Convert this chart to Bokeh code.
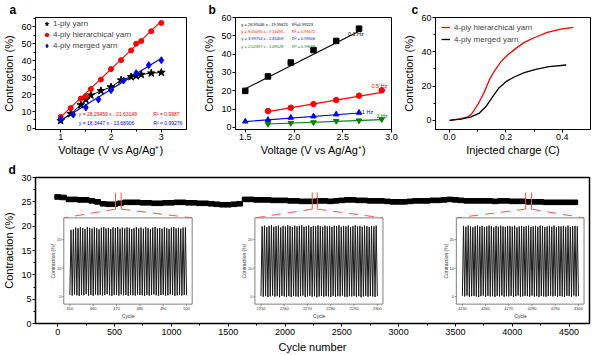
import math
from bokeh.plotting import figure
from bokeh.layouts import column, row
from bokeh.models import Range1d, Legend, LegendItem, FixedTicker, NumeralTickFormatter
from bokeh.core.properties import value
from bokeh.embed import file_html
from bokeh.resources import INLINE

FONT = "Liberation Sans"
RED = "#ff0000"
BLUE = "#0000ff"
GREEN = "#008000"
PINK = "#ff5050"

# ---------------- panel a ----------------
a_volt_1ply = [1.0, 1.2, 1.4, 1.5, 1.6, 1.8, 2.0, 2.2, 2.4, 2.5, 2.6, 2.8, 3.0]
a_contr_1ply = [4.6, 8.7, 13.9, 17.0, 19.6, 22.2, 24.4, 28.5, 30.4, 31.0, 31.8, 32.6, 33.0]
a_volt_hier = [1.0, 1.2, 1.4, 1.5, 1.6, 1.8, 2.0, 2.2, 2.4, 2.5, 2.6, 2.8, 3.0]
a_contr_hier = [6.8, 12.0, 17.6, 19.1, 23.2, 28.8, 35.0, 40.3, 46.0, 50.0, 51.5, 57.3, 62.2]
a_volt_merged = [1.0, 1.25, 1.5, 1.75, 2.0, 2.25, 2.5, 2.75, 3.0]
a_contr_merged = [5.5, 8.2, 12.4, 17.1, 22.6, 28.3, 32.6, 37.3, 40.2]
a_fit_hier = (28.29459, -21.63149)
a_fit_merged = (18.3447, -13.68906)
a_fit_text = ["y = 28.29459 x - 21.63149", "y = 18.3447 x - 13.68906"]
a_r2_text = ["R\u00b2 = 0.9987", "R\u00b2 = 0.99276"]
a_xticks = [1, 2, 3]
a_yticks = [0, 10, 20, 30, 40, 50, 60]

# ---------------- panel b ----------------
b_volt = [1.5, 1.733, 1.967, 2.2, 2.433, 2.667]
b_volt_hi = [1.733, 1.967, 2.2, 2.433, 2.667, 2.9]
b_01hz = [19.9, 27.8, 35.4, 42.2, 47.2, 53.9]
b_05hz = [8.9, 10.7, 12.7, 14.9, 17.3, 20.2]
b_1hz = [3.2, 4.1, 5.3, 6.0, 7.1, 8.0]
b_2hz = [1.8, 2.3, 2.7, 3.4, 3.7, 4.4]
b_fits = [(26.95046, -19.39625), (9.05095, -7.14095), (3.99754, -2.85409), (2.02397, -1.69528)]
b_fit_text = ["y = 26.95046 x - 19.39625", "y = 9.05095 x - 7.14095",
              "y = 3.99754 x - 2.85409", "y = 2.02397 x - 1.69528"]
b_r2_text = ["R\u00b2=0.99223", "R\u00b2 = 0.99172", "R\u00b2 = 0.99506", "R\u00b2 = 0.99663"]
b_freq = ["0.1 Hz", "0.5 Hz", "1 Hz", "2 Hz"]
b_xticks = [1.5, 2.0, 2.5, 3.0]
b_yticks = [0, 10, 20, 30, 40, 50, 60]

# ---------------- panel c ----------------
c_charge_hier = [0.0, 0.02, 0.041, 0.065, 0.078, 0.088, 0.106, 0.124, 0.141, 0.159, 0.182,
                 0.206, 0.235, 0.265, 0.300, 0.347, 0.394, 0.439]
c_contr_hier = [0.0, 0.4, 1.0, 2.1, 3.8, 6.2, 11.0, 16.8, 23.6, 28.8, 34.2,
                38.1, 42.0, 45.5, 48.2, 51.3, 53.2, 54.2]
c_charge_merged = [0.0, 0.02, 0.041, 0.076, 0.106, 0.129, 0.153, 0.176, 0.2, 0.229,
                   0.265, 0.306, 0.353, 0.414]
c_contr_merged = [0.0, 0.4, 0.8, 2.1, 4.3, 8.1, 13.9, 19.1, 22.6, 25.3,
                  27.9, 29.8, 31.3, 32.3]
c_xticks = [0.0, 0.2, 0.4]
c_yticks = [0, 20, 40, 60]

# ---------------- panel d ----------------
d_cycle = list(range(0, 4551, 50))
d_contr = [26.0, 25.9, 25.5, 25.5, 25.4, 25.4, 25.2, 25.0, 24.6, 24.5,
           24.5, 24.7, 24.9, 24.9, 24.9, 24.8, 24.8, 24.7, 24.7, 24.8,
           24.8, 24.9, 24.9, 24.8, 24.8, 24.7, 24.7, 24.6, 24.5, 24.4,
           24.4, 24.5, 24.6, 25.5, 25.5, 25.4, 25.4, 25.4, 25.3, 25.3,
           25.3, 25.2, 25.2, 25.1, 25.1, 25.1, 25.2, 25.2, 25.1, 25.2,
           25.3, 25.4, 25.4, 25.3, 25.3, 25.2, 25.2, 25.2, 25.1, 25.0,
           25.0, 25.0, 25.1, 25.2, 25.2, 25.2, 25.3, 25.3, 25.4, 25.5,
           25.4, 25.3, 25.2, 25.2, 25.2, 25.2, 25.2, 25.1, 25.2, 25.2,
           25.1, 25.1, 25.1, 25.0, 25.0, 25.0, 24.9, 24.9, 24.9, 24.9,
           24.9, 24.9]
d_xticks = [0, 500, 1000, 1500, 2000, 2500, 3000, 3500, 4000, 4500]
d_yticks = [0, 5, 10, 15, 20, 25, 30]

# zoomed windows (cycle start of each inset) and the red markers on the main trace
ins_start = [450, 2250, 4250]
ins_marks = [(508, 558), (2240, 2284), (4118, 4169)]
ins_xticks = [[450, 460, 470, 480, 490, 500], [2250, 2260, 2270, 2280, 2290, 2300],
              [4250, 4260, 4270, 4280, 4290, 4300]]
ins_yticks = [0, 10, 20]
ins_peaks = [
    [23.4, 23.6, 24.2, 23.9, 24.3, 24.0, 23.7, 24.4, 24.1, 23.8, 24.3, 24.0, 23.6, 24.2, 24.4, 23.9, 24.1,
     23.7, 24.3, 24.0, 24.4, 23.8, 24.2, 23.9, 24.3, 24.1, 23.7, 24.0, 24.4, 23.9, 24.2, 23.8, 24.3, 24.0,
     23.6, 24.2, 24.4, 23.9, 24.1, 23.8, 24.3, 24.0, 23.7, 24.2, 24.4, 23.9, 24.1, 23.8, 24.2, 24.3],
    [24.6, 24.9, 24.4, 24.8, 25.0, 24.5, 24.7, 24.9, 24.3, 24.8, 24.6, 25.0, 24.7, 24.4, 24.9, 24.6, 24.8,
     25.0, 24.5, 24.7, 24.9, 24.4, 24.8, 24.6, 25.0, 24.7, 24.5, 24.9, 24.6, 24.8, 24.4, 24.9, 24.7, 25.0,
     24.5, 24.8, 24.6, 24.9, 24.4, 24.7, 25.0, 24.6, 24.8, 24.5, 24.9, 24.7, 24.4, 24.8, 24.6, 24.9],
    [24.8, 24.5, 24.9, 24.6, 24.3, 24.7, 24.9, 24.5, 24.8, 24.4, 24.6, 24.9, 24.7, 24.3, 24.8, 24.5, 24.9,
     24.6, 24.4, 24.8, 24.7, 24.5, 24.9, 24.3, 24.6, 24.8, 24.5, 24.7, 24.9, 24.4, 24.6, 24.8, 24.5, 24.9,
     24.7, 24.4, 24.6, 24.8, 24.5, 24.9, 24.3, 24.7, 24.6, 24.8, 24.5, 24.9, 24.4, 24.7, 24.8, 24.6],
]
ins_troughs = [
    [0.6, 0.4, 0.8, 0.5, 0.3, 0.7, 0.5, 0.9, 0.4, 0.6, 0.3, 0.8, 0.5, 0.7, 0.4, 0.6, 0.9, 0.5, 0.3, 0.7,
     0.6, 0.4, 0.8, 0.5, 0.6, 0.3, 0.7, 0.5, 0.4, 0.8, 0.6, 0.5, 0.3, 0.7, 0.4, 0.6, 0.8, 0.5, 0.3, 0.6,
     0.7, 0.4, 0.5, 0.8, 0.6, 0.3, 0.5, 0.7, 0.4, 0.6, 0.5],
    [0.2, 0.0, 0.3, -0.1, 0.1, 0.4, 0.0, 0.2, -0.2, 0.3, 0.1, 0.0, 0.2, -0.1, 0.3, 0.1, 0.0, 0.2, 0.4, -0.1,
     0.1, 0.3, 0.0, 0.2, -0.2, 0.1, 0.3, 0.0, 0.2, 0.1, -0.1, 0.3, 0.0, 0.2, 0.1, 0.4, 0.0, -0.1, 0.2, 0.1,
     0.3, 0.0, 0.2, -0.2, 0.1, 0.3, 0.0, 0.2, 0.1, -0.1, 0.2],
    [0.3, 0.1, 0.4, 0.0, 0.2, 0.3, 0.1, -0.1, 0.2, 0.4, 0.0, 0.3, 0.1, 0.2, -0.1, 0.3, 0.1, 0.4, 0.0, 0.2,
     0.1, 0.3, -0.1, 0.2, 0.4, 0.0, 0.1, 0.3, 0.2, 0.0, 0.4, 0.1, 0.2, -0.1, 0.3, 0.1, 0.0, 0.2, 0.4, 0.1,
     0.3, 0.0, 0.2, 0.1, -0.1, 0.3, 0.2, 0.0, 0.4, 0.1, 0.2],
]


def style(p, xlabel, ylabel, letter, letter_offset, lab_size="11px", tick_size="9px", xlab_standoff=1):
    p.outline_line_color = "black"
    p.outline_line_width = 1
    p.grid.visible = False
    p.xaxis.axis_label = xlabel
    p.yaxis.axis_label = ylabel
    for ax in (p.xaxis[0], p.yaxis[0]):
        ax.axis_line_color = "black"
        ax.major_tick_line_color = "black"
        ax.minor_tick_line_color = "black"
        ax.major_tick_in = 0
        ax.major_tick_out = 3
        ax.minor_tick_in = 0
        ax.minor_tick_out = 2
        ax.major_label_text_font = FONT
        ax.major_label_text_font_size = tick_size
        ax.major_label_text_color = "black"
        ax.major_label_standoff = 1
        ax.axis_label_text_font = FONT
        ax.axis_label_text_font_size = lab_size
        ax.axis_label_text_font_style = "normal"
        ax.axis_label_text_color = "black"
        ax.axis_label_standoff = 3
    p.xaxis[0].axis_label_standoff = xlab_standoff
    p.title.text = letter
    p.title.align = "left"
    p.title.offset = letter_offset
    p.title.standoff = 1
    p.title.text_font = FONT
    p.title.text_font_size = "12px"
    p.title.text_font_style = "bold"
    p.title.text_color = "black"


def make_fig(w, h, xr, yr, bl, br, bt, bb):
    return figure(width=w, height=h, x_range=Range1d(*xr), y_range=Range1d(*yr),
                  output_backend="svg", toolbar_location=None,
                  min_border_left=bl, min_border_right=br, min_border_top=bt, min_border_bottom=bb)


def legend(items, x, y, gw=9, gh=9, standoff=2):
    return Legend(items=items, location=(x, y), margin=0, padding=0, spacing=2,
                  border_line_color=None, background_fill_alpha=0,
                  label_text_font=FONT, label_text_font_size="8px",
                  glyph_width=gw, glyph_height=gh, label_height=gh, label_standoff=standoff)


# ============ panel a ============
pa = make_fig(200, 160, (0.5, 3.5), (-0.6, 65.4), 34, 14, 15, 31)
style(pa, "Voltage (V vs Ag/Ag\u207a)", "Contraction (%)", "a", -26)
pa.xaxis.ticker = FixedTicker(ticks=a_xticks, minor_ticks=[1.5, 2.5])
pa.yaxis.ticker = FixedTicker(ticks=a_yticks, minor_ticks=[5, 15, 25, 35, 45, 55, 65])
pa.line(a_volt_1ply, a_contr_1ply, line_color="black", line_width=1)
fx = [a_volt_hier[0], a_volt_hier[-1]]
pa.line(fx, [a_fit_hier[0] * v + a_fit_hier[1] for v in fx], line_color=RED, line_width=1.2)
fx2 = [a_volt_merged[0], a_volt_merged[-1]]
pa.line(fx2, [a_fit_merged[0] * v + a_fit_merged[1] for v in fx2], line_color=BLUE, line_width=1.2)
r_star = pa.scatter(a_volt_1ply, a_contr_1ply, marker="star", size=8, color="black")
r_hier = pa.scatter(a_volt_hier, a_contr_hier, marker="circle", size=5, color=RED)
r_merg = pa.scatter(a_volt_merged, a_contr_merged, marker="diamond", size=7, color=BLUE)
pa.text(x=[1.36, 1.36], y=[8.5, 3.1], text=a_fit_text, text_color=[RED, BLUE],
        text_font=value(FONT), text_font_size="5px", text_baseline="middle")
pa.text(x=[2.84, 2.84], y=[8.5, 3.1], text=a_r2_text, text_color=[RED, BLUE],
        text_font=value(FONT), text_font_size="5px", text_baseline="middle")
pa.add_layout(legend([LegendItem(label="1-ply yarn", renderers=[r_star]),
                      LegendItem(label="4-ply hierarchical yarn", renderers=[r_hier]),
                      LegendItem(label="4-ply merged yarn", renderers=[r_merg])], 7, 79))

# ============ panel b ============
pb = make_fig(200, 160, (1.4, 3.0), (-1.2, 60), 35, 9, 15, 31)
style(pb, "Voltage (V vs Ag/Ag\u207a)", "Contraction (%)", "b", -27)
pb.xaxis.ticker = FixedTicker(ticks=b_xticks)
pb.xaxis.formatter = NumeralTickFormatter(format="0.0")
pb.yaxis.ticker = FixedTicker(ticks=b_yticks)
b_series = [(b_volt, b_01hz, "black", "square"), (b_volt_hi, b_05hz, RED, "circle"),
            (b_volt, b_1hz, BLUE, "triangle"), (b_volt_hi, b_2hz, GREEN, "inverted_triangle")]
for (xs, ys, col, mk), (k, c0) in zip(b_series, b_fits):
    ex = [xs[0], xs[-1]]
    pb.line(ex, [k * v + c0 for v in ex], line_color=col, line_width=1.2)
    pb.scatter(xs, ys, marker=mk, size=5.5, color=col)
b_cols = ["black", RED, BLUE, GREEN]
pb.text(x=[1.46] * 4, y=[56.3, 52.4, 48.4, 44.2], text=b_fit_text, text_color=b_cols,
        text_font=value(FONT), text_font_size="4px", text_baseline="middle")
pb.text(x=[1.98] * 4, y=[56.3, 52.4, 48.4, 44.2], text=b_r2_text, text_color=b_cols,
        text_font=value(FONT), text_font_size="4px", text_baseline="middle")
pb.text(x=[2.553, 2.795, 2.696, 2.846], y=[51.1, 22.7, 8.5, 6.2], text=b_freq, text_color=b_cols,
        text_font=value(FONT), text_font_size="5.5px", text_baseline="middle")

# ============ panel c ============
pc = make_fig(200, 160, (-0.05, 0.5), (-5.3, 60), 34, 10, 15, 31)
style(pc, "Injected charge (C)", "Contraction (%)", "c", -24)
pc.xaxis.ticker = FixedTicker(ticks=c_xticks, minor_ticks=[0.1, 0.3])
pc.xaxis.formatter = NumeralTickFormatter(format="0.0")
pc.yaxis.ticker = FixedTicker(ticks=c_yticks, minor_ticks=[10, 30, 50])
r_ch = pc.line(c_charge_hier, c_contr_hier, line_color=RED, line_width=1.3)
r_cm = pc.line(c_charge_merged, c_contr_merged, line_color="black", line_width=1.3)
pc.add_layout(legend([LegendItem(label="4-ply hierarchical yarn", renderers=[r_ch]),
                      LegendItem(label="4-ply merged yarn", renderers=[r_cm])], 6, 85, gw=9, gh=10, standoff=4))

# ============ panel d ============
pdd = make_fig(600, 195, (-196, 4680), (0, 30), 35, 11, 13, 32)
style(pdd, "Cycle number", "Contraction (%)", "d", -27, lab_size="11px", tick_size="9px", xlab_standoff=3)
pdd.xaxis[0].major_label_standoff = 2
pdd.outline_line_width = 1.5
pdd.xaxis.ticker = FixedTicker(ticks=d_xticks, minor_ticks=[250, 750, 1250, 1750, 2250, 2750, 3250, 3750, 4250])
pdd.yaxis.ticker = FixedTicker(ticks=d_yticks, minor_ticks=[2.5, 7.5, 12.5, 17.5, 22.5, 27.5])
pdd.rect(x=d_cycle, y=d_contr, width=52, height=0.95, color="black")

ins_targets_x = [(53, 1183), (1735, 2862), (3508, 4632)]
ins_target_y = (3.98, 21.7)
ins_src_y = (-2.6, 27.6)
for i in range(3):
    s = ins_start[i]
    lo, hi = s - 2.6, s + 52.4
    m0, m1 = ins_marks[i]
    tx0, tx1 = ins_targets_x[i]
    # red markers and dashed guides
    pdd.segment(x0=[m0, m1], y0=[26.9, 26.9], x1=[m0, m1], y1=[23.5, 23.5], line_color=PINK, line_width=1)
    pdd.segment(x0=[m0, m1], y0=[23.5, 23.5], x1=[tx0, tx1], y1=[ins_target_y[1]] * 2,
                line_color=PINK, line_width=1, line_dash="9 7")
    sub = pdd.subplot(x_source=Range1d(lo, hi), y_source=Range1d(*ins_src_y),
                      x_target=Range1d(tx0, tx1), y_target=Range1d(*ins_target_y))
    sub.quad(left=[lo], right=[hi], bottom=[ins_src_y[0]], top=[ins_src_y[1]],
             fill_color="white", line_color="#808080", line_width=1)
    xs = [s + 0.5 * k for k in range(101)]
    ys = []
    for k in range(50):
        ys.append(ins_troughs[i][k])
        ys.append(ins_peaks[i][k])
    ys.append(ins_troughs[i][50])
    sub.line(xs, ys, line_color="#1a1a1a", line_width=1.0)
    xt = ins_xticks[i]
    sub.segment(x0=xt, y0=[ins_src_y[0]] * len(xt), x1=xt, y1=[ins_src_y[0] - 0.6] * len(xt),
                line_color="#606060", line_width=0.7)
    sub.segment(x0=[lo] * 3, y0=ins_yticks, x1=[lo - 0.7] * 3, y1=ins_yticks,
                line_color="#606060", line_width=0.7)
    sub.text(x=xt, y=[ins_src_y[0] - 0.9] * len(xt), text=[str(t) for t in xt],
             text_font=value(FONT), text_font_size="4px", text_align="center", text_baseline="top",
             text_color="#333333")
    sub.text(x=[lo - 1.0] * 3, y=ins_yticks, text=[str(t) for t in ins_yticks],
             text_font=value(FONT), text_font_size="4px", text_align="right", text_baseline="middle",
             text_color="#333333")
    sub.text(x=[s + 25], y=[ins_src_y[0] - 3.1], text=["Cycle"],
             text_font=value(FONT), text_font_size="5px", text_align="center", text_baseline="top",
             text_color="#333333")
    sub.text(x=[lo - 4.6], y=[12.5], text=["Contraction (%)"], angle=math.pi / 2,
             text_font=value(FONT), text_font_size="5px", text_align="center", text_baseline="middle",
             text_color="#333333")

layout = column(row(pa, pb, pc), pdd)
open("out.html", "w").write(file_html(layout, INLINE))
